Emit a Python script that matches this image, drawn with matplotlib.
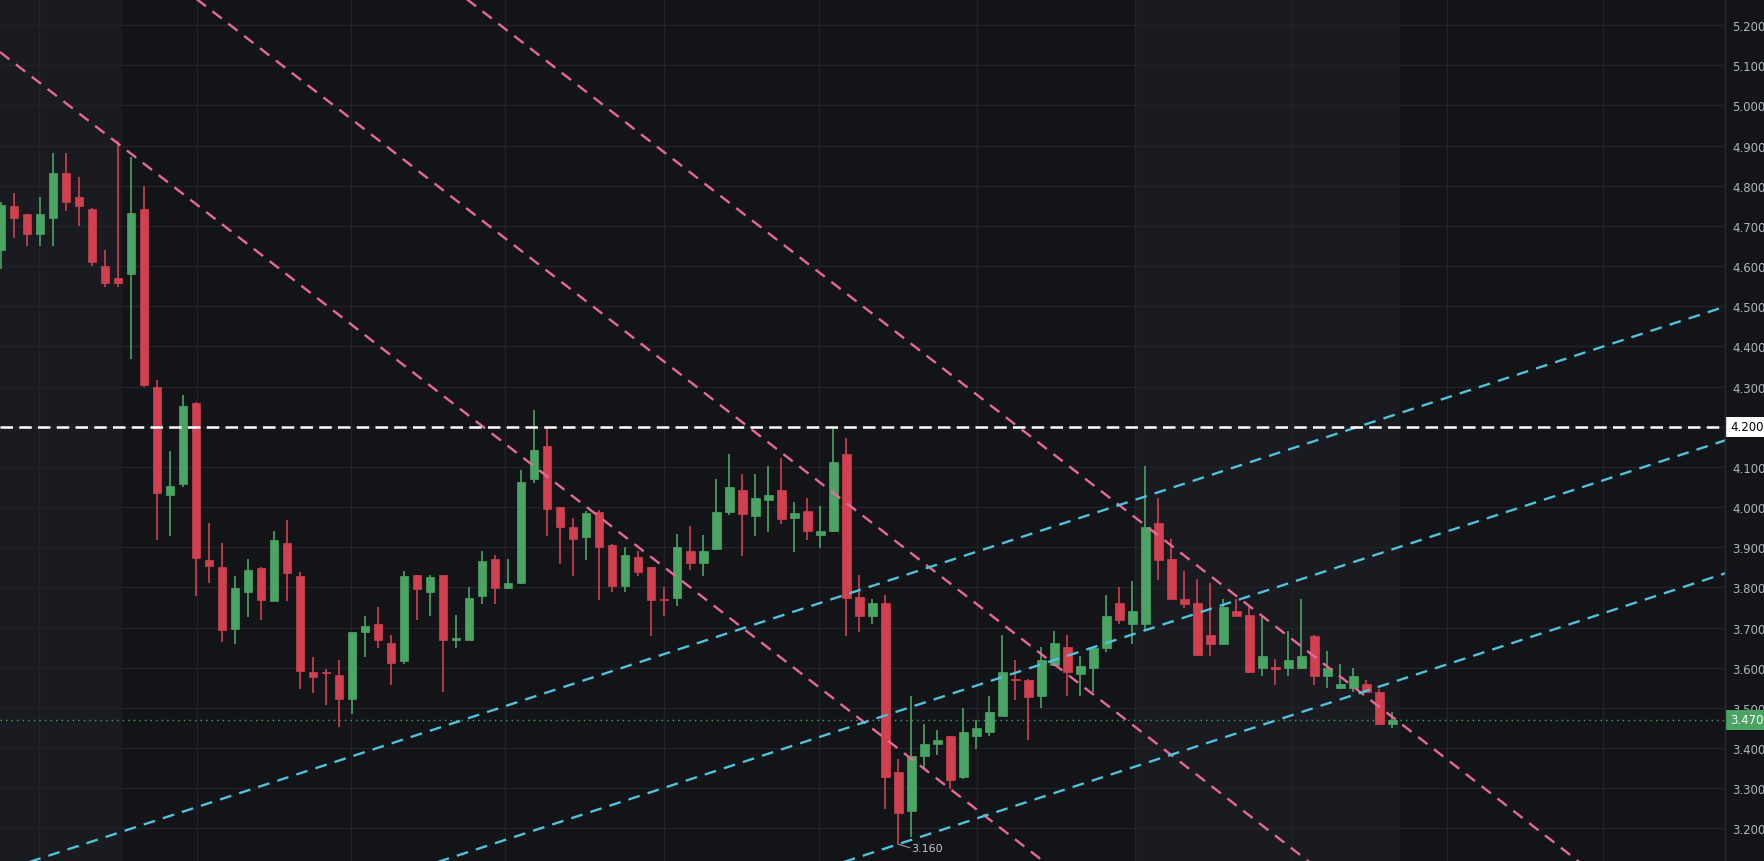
import matplotlib
matplotlib.use("Agg")
import matplotlib.pyplot as plt
import numpy as np

opens = [4.639,4.749,4.730,4.680,4.719,4.832,4.771,4.741,4.601,4.570,
         4.579,4.741,4.300,4.029,4.058,4.260,3.868,3.851,3.697,3.789,
         3.848,3.767,3.911,3.828,3.589,3.589,3.583,3.522,3.690,3.708,
         3.661,3.618,3.831,3.789,3.831,3.670,3.670,3.779,3.871,3.799,
         3.811,4.070,4.151,4.001,3.951,3.925,3.987,3.906,3.804,3.876,
         3.851,3.770,3.774,3.891,3.860,3.895,3.987,4.042,3.979,4.018,
         4.042,3.974,3.991,3.930,3.940,4.132,3.775,3.730,3.761,3.340,
         3.244,3.380,3.409,3.429,3.327,3.431,3.439,3.481,3.571,3.570,
         3.529,3.608,3.651,3.584,3.599,3.649,3.761,3.710,3.710,3.961,
         3.871,3.771,3.761,3.681,3.659,3.741,3.731,3.599,3.600,3.599,
         3.599,3.680,3.579,3.549,3.549,3.560,3.540,3.459]
highs = [4.760,4.781,4.730,4.771,4.882,4.882,4.821,4.745,4.640,4.911,
         4.871,4.800,4.316,4.139,4.280,4.262,3.960,3.910,3.829,3.870,
         3.850,3.941,3.969,3.839,3.626,3.598,3.620,3.690,3.729,3.751,
         3.681,3.841,3.831,3.831,3.831,3.731,3.801,3.891,3.881,3.871,
         4.092,4.242,4.198,4.001,3.972,3.991,3.992,3.907,3.901,3.890,
         3.851,3.801,3.932,3.952,3.930,4.071,4.132,4.082,4.082,4.102,
         4.122,4.012,4.022,4.002,4.200,4.172,3.831,3.771,3.781,3.374,
         3.530,3.460,3.444,3.430,3.501,3.470,3.530,3.681,3.620,3.571,
         3.651,3.692,3.681,3.630,3.651,3.781,3.801,3.816,4.102,4.022,
         3.921,3.841,3.821,3.812,3.770,3.770,3.751,3.731,3.621,3.692,
         3.771,3.681,3.641,3.610,3.600,3.570,3.548,3.490]
lows = [4.592,4.669,4.649,4.649,4.649,4.738,4.699,4.599,4.549,4.549,
        4.368,4.299,3.918,3.928,4.049,3.779,3.812,3.663,3.658,3.727,
        3.718,3.765,3.767,3.548,3.537,3.508,3.453,3.486,3.628,3.648,
        3.558,3.610,3.719,3.729,3.539,3.648,3.668,3.759,3.759,3.797,
        3.809,4.060,3.929,3.859,3.829,3.869,3.769,3.789,3.789,3.829,
        3.679,3.729,3.753,3.844,3.829,3.893,3.980,3.879,3.929,3.939,
        3.959,3.889,3.919,3.899,3.939,3.680,3.689,3.709,3.248,3.161,
        3.179,3.348,3.384,3.298,3.323,3.399,3.429,3.480,3.519,3.419,
        3.499,3.605,3.529,3.529,3.539,3.640,3.710,3.659,3.693,3.819,
        3.769,3.749,3.629,3.629,3.658,3.728,3.588,3.579,3.558,3.579,
        3.598,3.558,3.549,3.548,3.539,3.539,3.458,3.450]
closes = [4.751,4.719,4.680,4.730,4.832,4.759,4.750,4.609,4.559,4.559,
          4.731,4.304,4.034,4.053,4.251,3.872,3.853,3.693,3.799,3.844,
          3.769,3.919,3.837,3.592,3.577,3.586,3.522,3.688,3.705,3.670,
          3.611,3.828,3.797,3.826,3.670,3.672,3.773,3.866,3.799,3.811,
          4.063,4.141,3.996,3.950,3.920,3.986,3.900,3.804,3.881,3.839,
          3.769,3.768,3.900,3.860,3.891,3.988,4.051,3.984,4.022,4.031,
          3.970,3.985,3.941,3.941,4.111,3.774,3.730,3.761,3.329,3.239,
          3.380,3.409,3.420,3.321,3.440,3.451,3.490,3.590,3.569,3.526,
          3.620,3.661,3.589,3.605,3.650,3.730,3.719,3.741,3.951,3.869,
          3.770,3.759,3.632,3.659,3.751,3.730,3.589,3.630,3.598,3.620,
          3.630,3.579,3.600,3.559,3.580,3.540,3.459,3.470]

pink_cross = [37.08, 57.46, 78.23]
pink_slope = -0.0251
cyan_right = [4.499, 4.166, 3.835]
cyan_slope = 0.0106
level_price = 4.200
last_price = 3.470
low_label = "3.160"
low_idx = 69
yticks = [3.2,3.3,3.4,3.5,3.6,3.7,3.8,3.9,4.0,4.1,4.2,4.3,4.4,4.5,4.6,4.7,4.8,4.9,5.0,5.1,5.2]
vgrid = [2.9, 15.1, 26.9, 38.8, 51.0, 62.9, 75.1, 87.2, 99.3, 111.2, 123.2]

BG = "#131418"
SHADE = "#1a1b20"
GRID = "#212329"
GREEN = "#4aa463"
RED = "#d1404f"
PINK = "#e8689a"
CYAN = "#4fc3dc"

W, H = 1765, 862
fig = plt.figure(figsize=(W/100, H/100), dpi=100, facecolor=BG)
ax = fig.add_axes([0, 0, 1725/W, 1])
ax.set_facecolor(BG)
x0, x1 = -0.077, 132.6
y0, y1 = 3.119, 5.2647
ax.set_xlim(x0, x1)
ax.set_ylim(y0, y1)

ax.axvspan(x0, 9.3, color=SHADE, zorder=0, lw=0)
ax.axvspan(87.3, 107.6, color=SHADE, zorder=0, lw=0)
for yv in yticks:
    ax.axhline(yv, color=GRID, lw=1, zorder=1)
for xv in vgrid:
    ax.axvline(xv, color=GRID, lw=1, zorder=1)

idx = np.arange(len(opens))
o = np.array(opens); c = np.array(closes); h = np.array(highs); l = np.array(lows)
up = c >= o
cols = np.where(up, GREEN, RED)
ax.vlines(idx, l, h, colors=cols, lw=1.2, zorder=3)
bottom = np.minimum(o, c)
height = np.maximum(np.abs(c - o), 0.004)
ax.bar(idx, height, bottom=bottom, width=0.68, color=cols, edgecolor=cols, lw=0.5, zorder=4)

xs = np.array([x0, x1])
for pc in pink_cross:
    ax.plot(xs, level_price + pink_slope*(xs - pc), color=PINK, lw=1.7, dashes=(5, 3.5), zorder=5)
for cr in cyan_right:
    ax.plot(xs, cr + cyan_slope*(xs - x1), color=CYAN, lw=1.7, dashes=(5, 3.5), zorder=5)

ax.axhline(level_price, color="white", lw=1.8, dashes=(5, 2.5), zorder=6)
ax.axhline(last_price, color=GREEN, lw=1, ls=(0, (1, 3)), zorder=2)

ax.plot([low_idx, low_idx + 0.9], [3.161, 3.152], color="#9a9ca3", lw=0.8, zorder=6)
ax.text(low_idx + 1.0, 3.152, low_label, color="#c8cad0", fontsize=8, va="center", ha="left", zorder=7)

for s in ax.spines.values():
    s.set_visible(False)
ax.set_xticks([])
ax.yaxis.tick_right()
ax.set_yticks(yticks)
ax.set_yticklabels(["" if abs(v - level_price) < 1e-9 else f"{v:.3f}" for v in yticks],
                   color="#b2b5be", fontsize=8.5)
ax.tick_params(axis="y", length=0, pad=5)

fig.patches.append(plt.Rectangle((1726/W, (level_price - y0)/(y1 - y0) - 10/H), 39/W, 20/H,
                                 transform=fig.transFigure, fc="white", ec="none"))
fig.text(1730/W, (level_price - y0)/(y1 - y0), f"{level_price:.3f}", color="black", fontsize=8.5,
         va="center", ha="left")
fig.patches.append(plt.Rectangle((1726/W, (last_price - y0)/(y1 - y0) - 10/H), 39/W, 20/H,
                                 transform=fig.transFigure, fc=GREEN, ec="none"))
fig.text(1730/W, (last_price - y0)/(y1 - y0), f"{last_price:.3f}", color="white", fontsize=8.5,
         va="center", ha="left")
fig.add_artist(plt.Line2D([1725/W, 1725/W], [0, 1], color="#2a2c32", lw=1))

fig.savefig("out.png", dpi=100, facecolor=BG)
